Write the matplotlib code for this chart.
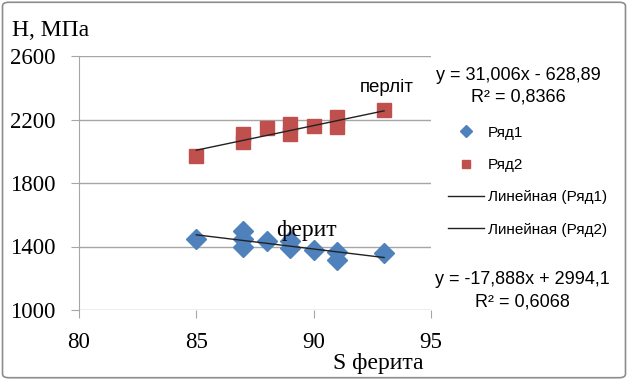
import matplotlib.pyplot as plt
import numpy as np
from matplotlib.patches import FancyBboxPatch

# Ряд1 (ферит)
x_ferit = [85, 87, 87, 87, 88, 89, 89, 90, 91, 91, 93]
h_ferit = [1450, 1500, 1450, 1400, 1433, 1435, 1390, 1381, 1364, 1314, 1360]

# Ряд2 (перліт)
x_perlit = [85, 87, 87, 88, 89, 89, 90, 91, 91, 93]
h_perlit = [1967, 2110, 2060, 2146, 2170, 2110, 2160, 2213, 2150, 2260]

# коэффициенты линейных трендов (из подписей)
trend_ferit = (-17.888, 2994.1)
trend_perlit = (31.006, -628.89)

x_ticks = [80, 85, 90, 95]
y_ticks = [1000, 1400, 1800, 2200, 2600]

serif = "Liberation Serif"
sans = "Liberation Sans"

fig = plt.figure(figsize=(6.28, 3.8), dpi=100)
ax = fig.add_axes([79 / 628, 1 - 310 / 380, 352 / 628, 254 / 380])

blue = "#4F81BD"
red = "#C0504D"

ax.plot(x_ferit, h_ferit, linestyle="none", marker="D", markersize=10,
        color=blue, label="Ряд1", zorder=3)
ax.plot(x_perlit, h_perlit, linestyle="none", marker="s", markersize=10,
        color=red, label="Ряд2", zorder=3)

xf = np.array([min(x_ferit), max(x_ferit)])
ax.plot(xf, trend_ferit[0] * xf + trend_ferit[1], color="#222222", lw=1,
        label="Линейная (Ряд1)", zorder=4)
xp = np.array([min(x_perlit), max(x_perlit)])
ax.plot(xp, trend_perlit[0] * xp + trend_perlit[1], color="#222222", lw=1,
        label="Линейная (Ряд2)", zorder=4)

ax.set_xlim(80, 95)
ax.set_ylim(1000, 2600)
ax.set_xticks(x_ticks)
ax.set_yticks(y_ticks)
ax.yaxis.grid(True, color="#a6a6a6", lw=1)
ax.set_axisbelow(True)
for s in ["top", "right", "bottom"]:
    ax.spines[s].set_visible(False)
ax.spines["left"].set_color("#a6a6a6")
ax.tick_params(axis="y", length=6, color="#a6a6a6", pad=11)
ax.tick_params(axis="x", length=6, color="#a6a6a6", pad=10)
for lab in ax.get_xticklabels() + ax.get_yticklabels():
    lab.set_fontfamily(serif)
    lab.set_fontsize(16.5)

fig.text(12 / 628, 1 - 31 / 380, "H, МПа", family=serif, fontsize=17,
         va="center", ha="left")
fig.text(378 / 628, 1 - 363 / 380, "S ферита", family=serif, fontsize=17,
         va="center", ha="center")
ax.text(89.7, 1469, "ферит", family=serif, fontsize=17, ha="center", va="baseline")
ax.text(93.1, 2375, "перліт", family=sans, fontsize=13.5, ha="center", va="baseline")

fig.text(518 / 628, 1 - 75 / 380, "y = 31,006x - 628,89", family=sans,
         fontsize=13, ha="center", va="center")
fig.text(518 / 628, 1 - 97 / 380, "R² = 0,8366", family=sans,
         fontsize=13, ha="center", va="center")
fig.text(522 / 628, 1 - 280 / 380, "y = -17,888x + 2994,1", family=sans,
         fontsize=13, ha="center", va="center")
fig.text(522 / 628, 1 - 302 / 380, "R² = 0,6068", family=sans,
         fontsize=13, ha="center", va="center")

leg = ax.legend(loc="upper left", bbox_to_anchor=(440 / 628, 1 - 118 / 380),
                bbox_transform=fig.transFigure, frameon=False, markerscale=0.6,
                handlelength=2.4, handletextpad=0.25, labelspacing=1.2,
                borderpad=0, prop={"family": sans, "size": 11})

fig.patches.append(FancyBboxPatch((0.004, 0.006), 0.992, 0.988,
                                  boxstyle="round,pad=0,rounding_size=0.01",
                                  transform=fig.transFigure, fill=False,
                                  edgecolor="#8c8c8c", lw=1.2))

fig.savefig("out.png", dpi=100)
